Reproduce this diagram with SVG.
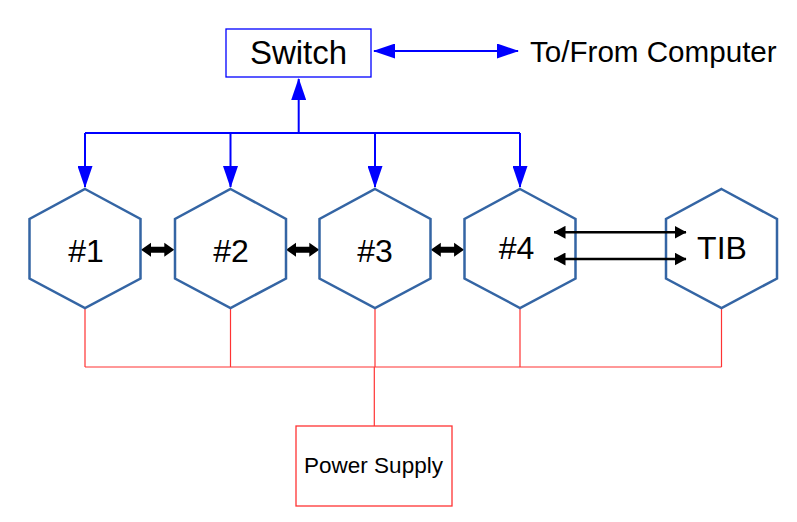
<svg xmlns="http://www.w3.org/2000/svg" width="797" height="522" viewBox="0 0 797 522">
  <style>
    .hex { fill: #ffffff; stroke: #3465a4; stroke-width: 2.5; }
    .lbl { font-family: "Liberation Sans", Arial, sans-serif; fill: #000000; text-anchor: middle; }
    .big { font-size: 32px; }
    .blue { fill: none; stroke: #0000ff; stroke-width: 2; }
    .red { fill: none; stroke: #ff3333; stroke-width: 1.2; }
    .blk { fill: none; stroke: #000000; stroke-width: 2.5; }
  </style>
  <defs>
    <marker id="bh" viewBox="0 0 22 15" refX="21" refY="7.5" markerWidth="22" markerHeight="15" markerUnits="userSpaceOnUse" orient="auto-start-reverse">
      <path d="M0,0 L22,7.5 L0,15 z" fill="#0000ff"/>
    </marker>
    <marker id="kh" viewBox="0 0 12 13" refX="11.5" refY="6.5" markerWidth="12" markerHeight="13" markerUnits="userSpaceOnUse" orient="auto-start-reverse">
      <path d="M0,0 L12,6.5 L0,13 z" fill="#000000"/>
    </marker>
  </defs>

  <g id="connectors">
    <!-- blue -->
    <path class="blue" d="M374,51 L518,51" marker-start="url(#bh)" marker-end="url(#bh)"/>
    <path class="blue" d="M298.7,133 L298.7,79" marker-end="url(#bh)"/>
    <path class="blue" d="M85,133 L520,133"/>
    <path class="blue" d="M85,133 L85,187" marker-end="url(#bh)"/>
    <path class="blue" d="M230.5,133 L230.5,187" marker-end="url(#bh)"/>
    <path class="blue" d="M375,133 L375,187" marker-end="url(#bh)"/>
    <path class="blue" d="M520,133 L520,187" marker-end="url(#bh)"/>
    <!-- black links between hexes -->
    <polygon fill="#000000" points="141,249.7 151,242.7 151,246.7 164.3,246.7 164.3,242.7 174.3,249.7 164.3,256.7 164.3,252.7 151,252.7 151,256.7"/>
    <polygon fill="#000000" points="286,249.7 296,242.7 296,246.7 309.3,246.7 309.3,242.7 319.3,249.7 309.3,256.7 309.3,252.7 296,252.7 296,256.7"/>
    <polygon fill="#000000" points="430.8,249.7 440.8,242.7 440.8,246.7 454.1,246.7 454.1,242.7 464.1,249.7 454.1,256.7 454.1,252.7 440.8,252.7 440.8,256.7"/>
    <!-- red power -->
    <path class="red" d="M85,308 L85,367 M230.5,308 L230.5,367 M375,308 L375,367 M520,308 L520,367 M721.5,308 L721.5,367 M85,367 L721.5,367 M374.3,367 L374.3,426"/>
  </g>

  <g id="switch">
    <rect x="226" y="29" width="145" height="48" fill="#ffffff" stroke="#0000ff" stroke-width="1.3"/>
    <text class="lbl" x="298.5" y="64" font-size="33">Switch</text>
  </g>

  <g id="computer">
    <text x="530" y="62" font-family="&quot;Liberation Sans&quot;, Arial, sans-serif" font-size="29.6" fill="#000000">To/From Computer</text>
  </g>

  <g id="n1">
    <polygon class="hex" points="85,189 140.5,219 140.5,278.5 85,308 29.5,278.5 29.5,219"/>
    <text class="lbl big" x="86" y="261.5">#1</text>
  </g>
  <g id="n2">
    <polygon class="hex" points="230.5,189 286,219 286,278.5 230.5,308 175,278.5 175,219"/>
    <text class="lbl big" x="231" y="261.5">#2</text>
  </g>
  <g id="n3">
    <polygon class="hex" points="375,189 430.5,219 430.5,278.5 375,308 319.5,278.5 319.5,219"/>
    <text class="lbl big" x="375" y="261.5">#3</text>
  </g>
  <g id="n4">
    <polygon class="hex" points="520,189 575.5,219 575.5,278.5 520,308 464.5,278.5 464.5,219"/>
    <text class="lbl big" x="516.5" y="259">#4</text>
  </g>
  <g id="tib">
    <polygon class="hex" points="721.5,189 777,219 777,278.5 721.5,308 666,278.5 666,219"/>
    <text class="lbl big" x="722" y="259">TIB</text>
  </g>

  <g id="power">
    <rect x="296" y="426" width="156" height="80" fill="#ffffff" stroke="#ff3333" stroke-width="1.3"/>
    <text class="lbl" x="373.5" y="473" font-size="22.5">Power Supply</text>
  </g>

  <g id="connectors-front">
    <path class="blk" d="M554,232.3 L686,232.3" marker-start="url(#kh)" marker-end="url(#kh)"/>
    <path class="blk" d="M554,259 L686,259" marker-start="url(#kh)" marker-end="url(#kh)"/>
  </g>
</svg>
